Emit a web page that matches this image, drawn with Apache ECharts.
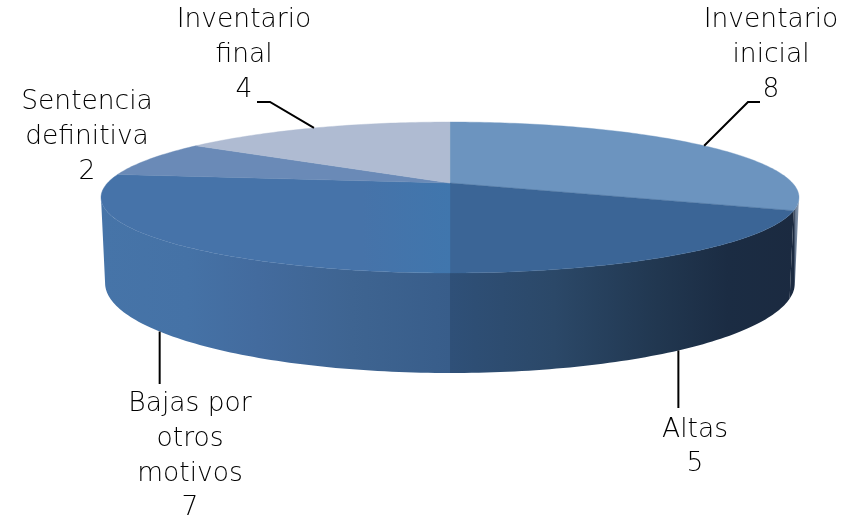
<!DOCTYPE html>
<html><head><meta charset="utf-8">
<style>html,body{margin:0;padding:0;background:#fff}#c{width:860px;height:517px}</style>
<script src="https://cdn.jsdelivr.net/npm/echarts@6/dist/echarts.min.js"></script>
</head><body><div id="c"></div>
<script>
const categories = ['Inventario\ninicial', 'Altas', 'Bajas por\notros\nmotivos', 'Sentencia\ndefinitiva', 'Inventario\nfinal'];
const values = [8, 5, 7, 2, 4];

const total = values.reduce((a, b) => a + b, 0);
const RAD = Math.PI / 180, K = 0.192;
const topPlane = {cx: 450, cy: 183, a: 72.7, b: 342.5};
const botPlane = {cx: 450, cy: 265.7, a: 86.7, b: 338.5};
const project = (p, deg) => {
  const s = Math.sin(deg * RAD), c = Math.cos(deg * RAD), d = 1 + K * c;
  return [p.cx + p.b * s / d, p.cy - p.a * c / d];
};
const arc = (p, from, to) => {
  const n = Math.max(2, Math.ceil(Math.abs(to - from))), out = [];
  for (let i = 0; i <= n; i++) out.push(project(p, from + (to - from) * i / n));
  return out;
};
const horiz = (x0, x1, stops) => ({type: 'linear', global: true, x: x0, y: 0, x2: x1, y2: 0,
  colorStops: stops.map(([o, color]) => ({offset: o, color}))});

const EDGE_R = Math.acos(-K) / RAD, EDGE_L = 360 - EDGE_R;
const topFill = [
  '#6c94bf', '#3b6596',
  horiz(100, 450, [[0, '#4673a9'], [0.75, '#4673a9'], [1, '#4076ad']]),
  '#6a8ab7', '#afbbd2'
];
const wallFill = [
  horiz(788, 799, [[0, '#1b2a40'], [0.5, '#1b2a40'], [0.7, '#6f8098'], [1, '#8a9bb0']]),
  horiz(450, 797, [[0, '#2f5078'], [0.3, '#2b4868'], [0.6, '#213750'], [0.8, '#1b2c43'], [1, '#1b2a40']]),
  horiz(100, 450, [[0, '#4674a8'], [0.25, '#4572a6'], [0.45, '#436b9e'], [0.72, '#3e6491'], [1, '#385d8a']]),
  '#4674a8', '#4674a8'
];
const labelX = [771, 695, 190, 87, 244];
const labelY = [55, 447, 456.5, 137, 55];
const leaders = [
  {elbow: [748, 102], end: [760, 102], plane: topPlane},
  {end: [679, 408], plane: botPlane},
  {end: [159, 384], plane: botPlane},
  null,
  {elbow: [270, 102], end: [257, 102], plane: topPlane}
];

const chart = echarts.init(document.getElementById('c'), null, {renderer: 'canvas'});
chart.setOption({
  animation: false,
  backgroundColor: '#fff',
  series: [{
    type: 'custom',
    name: 'Expedientes',
    coordinateSystem: 'none',
    silent: true,
    clip: false,
    data: values.map((v, i) => ({name: categories[i], value: [v, i]})),
    renderItem(params, api) {
      const i = api.value(1), v = api.value(0);
      let before = 0;
      for (let j = 0; j < i; j++) before += values[j];
      const from = before / total * 360, to = (before + v) / total * 360, mid = (from + to) / 2;
      const children = [];
      const wFrom = Math.max(from, EDGE_R), wTo = Math.min(to, EDGE_L);
      if (wTo > wFrom) {
        children.push({type: 'polygon', shape: {points: arc(topPlane, wFrom, wTo).concat(arc(botPlane, wTo, wFrom))},
          style: {fill: wallFill[i], stroke: 'none'}});
      }
      children.push({type: 'polygon',
        shape: {points: [[topPlane.cx, topPlane.cy]].concat(arc(topPlane, from, to))},
        style: {fill: topFill[i], stroke: topFill[i], lineWidth: 0.4}});
      const lead = leaders[i];
      if (lead) {
        const start = project(lead.plane, mid);
        const pts = lead.elbow ? [start, lead.elbow, lead.end] : [start, [start[0], lead.end[1]]];
        children.push({type: 'polyline', z2: 5, shape: {points: pts},
          style: {stroke: '#000', lineWidth: 2, fill: 'none'}});
      }
      children.push({type: 'text', z2: 6, style: {
        x: labelX[i], y: labelY[i], text: categories[i] + '\n' + v,
        align: 'center', verticalAlign: 'middle',
        fontFamily: '"DejaVu Sans Light", "DejaVu Sans"', fontWeight: 300, fontSize: 26.5, lineHeight: 34.7, fill: '#000'
      }});
      return {type: 'group', children};
    }
  }]
});
</script></body></html>
